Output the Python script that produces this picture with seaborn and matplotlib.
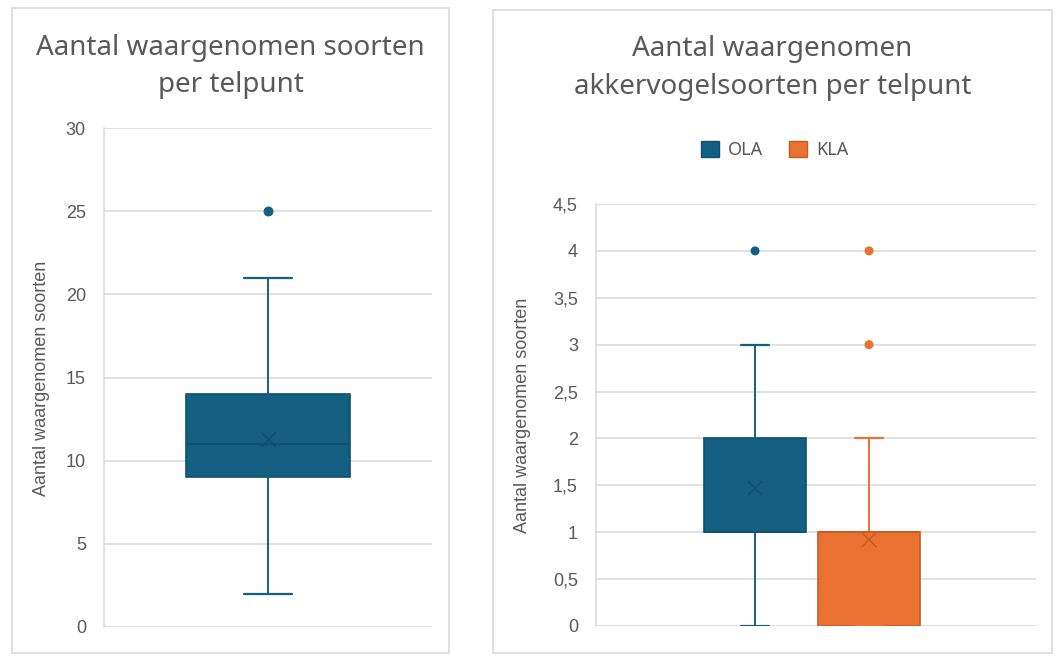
import matplotlib
matplotlib.use("Agg")
import matplotlib.pyplot as plt
from matplotlib.patches import Rectangle, Patch
import seaborn as sns
import pandas as pd

# --- Data ---
# Left: all species per count point
left_stats = dict(label="Alle", whislo=2, q1=9, med=11, q3=14, whishi=21, mean=11.3)
left_outliers = [25]

# Right: farmland bird species per count point
groups = ["OLA", "KLA"]
whis_low = [0, 0]
q1_vals = [1, 0]
medians = [1, 1]
q3_vals = [2, 1]
whis_high = [3, 2]
means = [1.47, 0.92]
outliers = {"OLA": [4], "KLA": [3, 4]}

left_ticks = [0, 5, 10, 15, 20, 25, 30]
right_ticks = [0, 0.5, 1, 1.5, 2, 2.5, 3, 3.5, 4, 4.5]
right_tick_labels = ["0", "0,5", "1", "1,5", "2", "2,5", "3", "3,5", "4", "4,5"]

# --- Styling ---
sns.set_theme(style="white")
plt.rcParams["font.family"] = ["Liberation Sans", "DejaVu Sans"]

COLORS = {"OLA": "#156082", "KLA": "#E97132"}
EDGES = {"OLA": "#10506E", "KLA": "#C85A22"}
GRID = "#D9D9D9"
TEXT = "#595959"
TITLE_FONT = ["Noto Sans", "DejaVu Sans"]

fig = plt.figure(figsize=(10.64, 6.66), dpi=100)

# panel borders
for x0, y0, w, h in [(0.0113, 0.0195, 0.4107, 0.9685), (0.4633, 0.0195, 0.5254, 0.9655)]:
    fig.add_artist(Rectangle((x0, y0), w, h, transform=fig.transFigure,
                             fill=False, ec=GRID, lw=1.2))

ax1 = fig.add_axes([0.0977, 0.0586, 0.3083, 0.749])
ax2 = fig.add_axes([0.5602, 0.0601, 0.4135, 0.6336])


def style_axis(ax):
    ax.grid(axis="y", color=GRID, lw=1.1)
    ax.set_axisbelow(True)
    for s in ["top", "right", "bottom"]:
        ax.spines[s].set_visible(False)
    ax.spines["left"].set_color(GRID)
    ax.spines["left"].set_linewidth(1.1)
    ax.tick_params(axis="y", length=0, pad=13, labelsize=13, labelcolor=TEXT)
    ax.set_xticks([])
    ax.set_xlabel("")


def draw_box(ax, stats, pos, width, capw, color, edge):
    ax.bxp([stats], positions=[pos], widths=width, capwidths=capw,
           patch_artist=True, showfliers=False, showmeans=False,
           boxprops=dict(facecolor=color, edgecolor=edge, lw=1.2),
           medianprops=dict(color=edge, lw=1.2),
           whiskerprops=dict(color=color, lw=1.4),
           capprops=dict(color=color, lw=1.6))


# --- Left panel ---
draw_box(ax1, left_stats, 0, 0.5, 0.146, COLORS["OLA"], EDGES["OLA"])
sns.scatterplot(x=[0], y=[left_stats["mean"]], marker="x", s=110, color=EDGES["OLA"],
                linewidth=1.1, ax=ax1, zorder=5)
sns.scatterplot(x=[0] * len(left_outliers), y=left_outliers, s=42, color=COLORS["OLA"],
                edgecolor=EDGES["OLA"], linewidth=0.6, ax=ax1, zorder=5)
ax1.set_xlim(-0.5, 0.5)
ax1.set_ylim(0, 30)
ax1.set_yticks(left_ticks)
style_axis(ax1)
ax1.set_ylabel("")

# --- Right panel ---
for i, g in enumerate(groups):
    st = dict(label=g, whislo=whis_low[i], q1=q1_vals[i], med=medians[i],
              q3=q3_vals[i], whishi=whis_high[i], mean=means[i])
    draw_box(ax2, st, i, 0.9, 0.25, COLORS[g], EDGES[g])

mean_df = pd.DataFrame({"pos": range(len(groups)), "mean": means, "groep": groups})
sns.scatterplot(data=mean_df, x="pos", y="mean", hue="groep", palette=EDGES, marker="x",
                s=110, linewidth=1.1, legend=False, ax=ax2, zorder=5)
out_df = pd.DataFrame([(i, v, g) for i, g in enumerate(groups) for v in outliers[g]],
                      columns=["pos", "waarde", "groep"])
sns.scatterplot(data=out_df, x="pos", y="waarde", hue="groep", palette=COLORS, s=42,
                edgecolor="none", legend=False, ax=ax2, zorder=5)
ax2.set_xlim(-1.395, 2.465)
ax2.set_ylim(0, 4.5)
ax2.set_yticks(right_ticks)
ax2.set_yticklabels(right_tick_labels)
style_axis(ax2)
ax2.set_ylabel("")

# --- Titles, axis labels, legend ---
fig.text(0.2166, 0.900, "Aantal waargenomen soorten\nper telpunt", ha="center", va="center",
         fontsize=20, color=TEXT, family=TITLE_FONT, linespacing=1.45)
fig.text(0.7260, 0.898, "Aantal waargenomen\nakkervogelsoorten per telpunt", ha="center",
         va="center", fontsize=20, color=TEXT, family=TITLE_FONT, linespacing=1.45)

fig.text(0.039, 0.432, "Aantal waargenomen soorten", rotation=90, ha="center", va="center",
         fontsize=13, color=TEXT)
fig.text(0.491, 0.376, "Aantal waargenomen soorten", rotation=90, ha="center", va="center",
         fontsize=13, color=TEXT)

handles = [Patch(facecolor=COLORS[g], edgecolor=EDGES[g], label=g) for g in groups]
fig.legend(handles=handles, loc="center", bbox_to_anchor=(0.728, 0.775), ncol=2,
           frameon=False, handlelength=1.0, handleheight=1.0, handletextpad=0.5,
           columnspacing=1.4, prop={"family": TITLE_FONT, "size": 13},
           labelcolor=TEXT)

fig.savefig("out.png", dpi=100, facecolor="white")
